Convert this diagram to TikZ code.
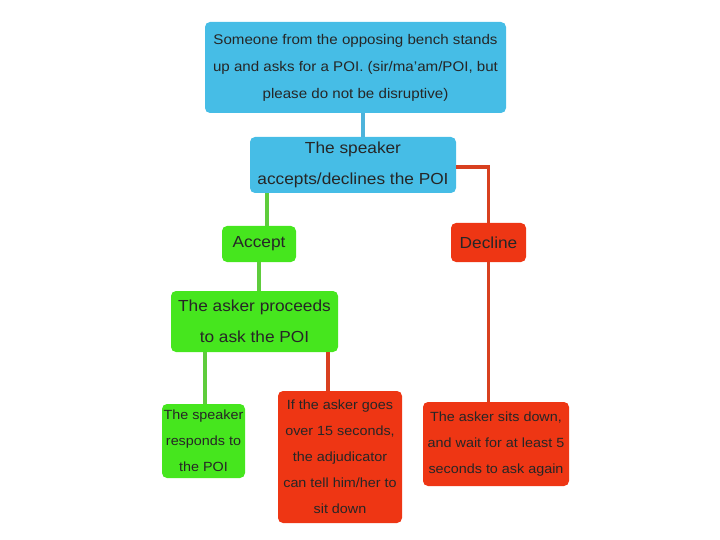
\documentclass[tikz,border=0pt]{standalone}
\usepackage{fontspec}
\setmainfont{Liberation Sans}[FakeStretch=1.08]
\usepackage{tikz}
\usetikzlibrary{positioning,calc}
\definecolor{cAsk}{HTML}{46BDE6}
\definecolor{cYes}{HTML}{46E61E}
\definecolor{cNo}{HTML}{EE3614}
\definecolor{lAsk}{HTML}{4DB3DB}
\definecolor{lYes}{HTML}{5ECC3C}
\definecolor{lNo}{HTML}{D8401F}
\tikzset{
  box/.style={rounded corners=5pt, draw=none, fill=#1, text=black!85,
              align=center, inner sep=0pt},
  ask/.style={box=cAsk},
  yes/.style={box=cYes},
  no/.style={box=cNo},
  big/.style={font=\fontsize{16}{31}\selectfont},
  mid/.style={font=\fontsize{14}{27}\selectfont},
  small/.style={font=\fontsize{13.3}{26}\selectfont},
  link/.style={line width=3.5pt, draw=#1},
}

\begin{document}
\begin{tikzpicture}[x=1pt, y=-1pt]
  \useasboundingbox (0,0) rectangle (720,540);

  % question and answer
  \node[ask, mid, minimum width=301pt, minimum height=91pt] (request) at (355.5,67.5)
    {Someone from the opposing bench stands\\up and asks for a POI. (sir/ma'am/POI, but\\please do not be disruptive)};
  \node[ask, big, minimum width=206pt, minimum height=56pt] (decide) at (353,165)
    {The speaker\\accepts/declines the POI};

  % two branches
  \node[yes, big, minimum width=74pt, minimum height=36pt] (accept) at (259,244) {Accept};
  \node[no, big, minimum width=75pt, minimum height=39pt] (decline) at (488.5,242.5) {Decline};
  \node[yes, big, minimum width=167pt, minimum height=61pt] (proceed) at (254.5,321.5)
    {The asker proceeds\\to ask the POI};

  % outcomes
  \node[yes, small, minimum width=83pt, minimum height=74pt] (respond) at (203.5,441)
    {The speaker\\responds to\\the POI};
  \node[no, small, minimum width=124pt, minimum height=132pt] (overtime) at (340,457)
    {If the asker goes\\over 15 seconds,\\the adjudicator\\can tell him/her to\\sit down};
  \node[no, small, minimum width=146pt, minimum height=84pt] (sitdown) at (496,444)
    {The asker sits down,\\and wait for at least 5\\seconds to ask again};

  \draw[link=lAsk] ([xshift=7.5pt]request.south) -- ([xshift=7.5pt]request.south |- decide.north);
  \draw[link=lYes] ([xshift=8pt]accept.north) -- ([xshift=8pt]accept.north |- decide.south);
  \draw[link=lNo] ([yshift=-2pt]decide.east) -| (decline.north);
  \draw[link=lYes] (accept.south) -- (accept.south |- proceed.north);
  \draw[link=lYes] ([xshift=1.5pt]respond.north) -- ([xshift=1.5pt]respond.north |- proceed.south);
  \draw[link=lNo] ([xshift=-12pt]overtime.north) -- ([xshift=-12pt]overtime.north |- proceed.south);
  \draw[link=lNo] (decline.south) -- (decline.south |- sitdown.north);
\end{tikzpicture}
\end{document}
